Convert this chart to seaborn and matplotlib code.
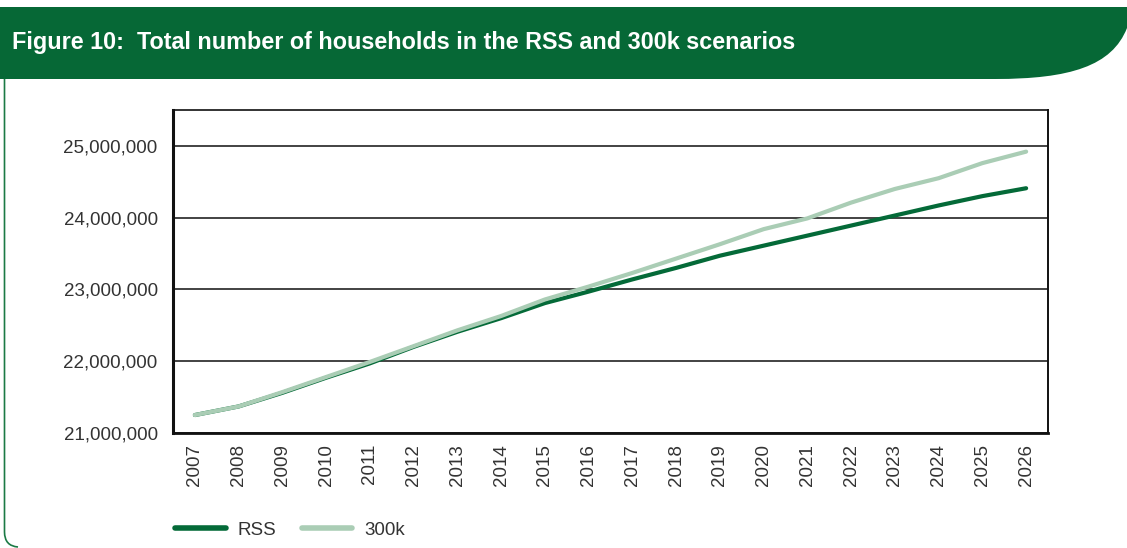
import numpy as np
import pandas as pd
import seaborn as sns
import matplotlib
matplotlib.use("Agg")
import matplotlib.pyplot as plt
from matplotlib.path import Path
from matplotlib.patches import PathPatch
from matplotlib.ticker import FuncFormatter, FixedLocator
from matplotlib.lines import Line2D

# ---- data ----
years = list(range(2007, 2027))
rss = [21250000, 21370000, 21560000, 21770000, 21970000, 22200000, 22410000,
       22600000, 22810000, 22970000, 23140000, 23300000, 23470000, 23610000,
       23750000, 23890000, 24030000, 24170000, 24300000, 24410000]
k300 = [21250000, 21370000, 21570000, 21780000, 21990000, 22210000, 22430000,
        22630000, 22860000, 23040000, 23230000, 23430000, 23630000, 23840000,
        23990000, 24210000, 24400000, 24550000, 24760000, 24920000]
series_names = ["RSS", "300k"]
title = "Figure 10:  Total number of households in the RSS and 300k scenarios"
yticks = [21000000, 22000000, 23000000, 24000000, 25000000]

df = pd.DataFrame({
    "year": years * 2,
    "households": rss + k300,
    "scenario": [series_names[0]] * len(years) + [series_names[1]] * len(years),
})

sns.set_style("white")
plt.rcParams["font.family"] = ["Liberation Sans", "DejaVu Sans"]

W, H = 1127, 548
fig = plt.figure(figsize=(W / 100, H / 100), dpi=100)
fig.patch.set_facecolor("white")

def px(x, y):
    return (x / W, 1 - y / H)

ax = fig.add_axes([173 / W, 1 - 433 / H, (1048 - 173) / W, (433 - 110) / H])

dark = "#046a38"
light = "#aacdb5"
sns.lineplot(data=df, x="year", y="households", hue="scenario",
             hue_order=series_names, palette=[dark, light], linewidth=3.0,
             ax=ax, legend=False)

ax.set_xlim(years[0] - 0.5, years[-1] + 0.5)
ax.set_ylim(21000000, 25500000)
ax.set_yticks(yticks)
ax.yaxis.set_major_formatter(FuncFormatter(lambda v, p: f"{v:,.0f}"))
ax.grid(axis="y", color="#222222", linewidth=1.2)
ax.set_axisbelow(True)

# category axis: ticks at boundaries, labels at centres
ax.xaxis.set_major_locator(FixedLocator([y - 0.5 for y in years] + [years[-1] + 0.5]))
ax.xaxis.set_minor_locator(FixedLocator(years))
ax.xaxis.set_major_formatter(FuncFormatter(lambda v, p: ""))
ax.xaxis.set_minor_formatter(FuncFormatter(lambda v, p: str(int(round(v)))))
ax.tick_params(axis="x", which="major", direction="out", length=7, width=1.5, color="#222222")
ax.tick_params(axis="x", which="minor", length=0, pad=8, labelsize=13.5,
               labelcolor="#333333", labelrotation=90)
ax.tick_params(axis="y", which="major", direction="inout", length=14, width=1.2,
               color="#222222", labelsize=13.5, labelcolor="#333333", pad=4)
ax.set_xlabel("")
ax.set_ylabel("")

for side, lw in [("left", 2.2), ("bottom", 2.0), ("right", 1.4), ("top", 1.2)]:
    ax.spines[side].set_visible(True)
    ax.spines[side].set_color("#111111")
    ax.spines[side].set_linewidth(lw)

# legend
handles = [Line2D([0], [0], color=dark, lw=4), Line2D([0], [0], color=light, lw=4)]
fig.legend(handles, series_names, loc="center left", bbox_to_anchor=px(158, 530),
           ncol=2, frameon=False, fontsize=13.5, handlelength=2.7,
           handletextpad=0.65, columnspacing=1.35, labelcolor="#333333")

# header band with rounded bottom-right corner
verts = [px(0, 7), px(W, 7), px(W, 28),
         px(1112, 66), px(1070, 79), px(995, 79),
         px(0, 79), px(0, 7)]
codes = [Path.MOVETO, Path.LINETO, Path.LINETO,
         Path.CURVE4, Path.CURVE4, Path.CURVE4,
         Path.LINETO, Path.CLOSEPOLY]
fig.patches.append(PathPatch(Path(verts, codes), transform=fig.transFigure,
                             facecolor="#066836", edgecolor="none", zorder=0))
fig.text(*px(12, 43), title, color="white", fontsize=16.8, fontweight="bold",
         va="center", ha="left")

# left border with rounded bottom corner
bverts = [px(4.5, 79), px(4.5, 532), px(4.5, 546), px(18, 547)]
bcodes = [Path.MOVETO, Path.LINETO, Path.CURVE3, Path.CURVE3]
fig.patches.append(PathPatch(Path(bverts, bcodes), transform=fig.transFigure,
                             facecolor="none", edgecolor="#1b7a45", linewidth=1.2))

fig.savefig("out.png", dpi=100, facecolor="white")
